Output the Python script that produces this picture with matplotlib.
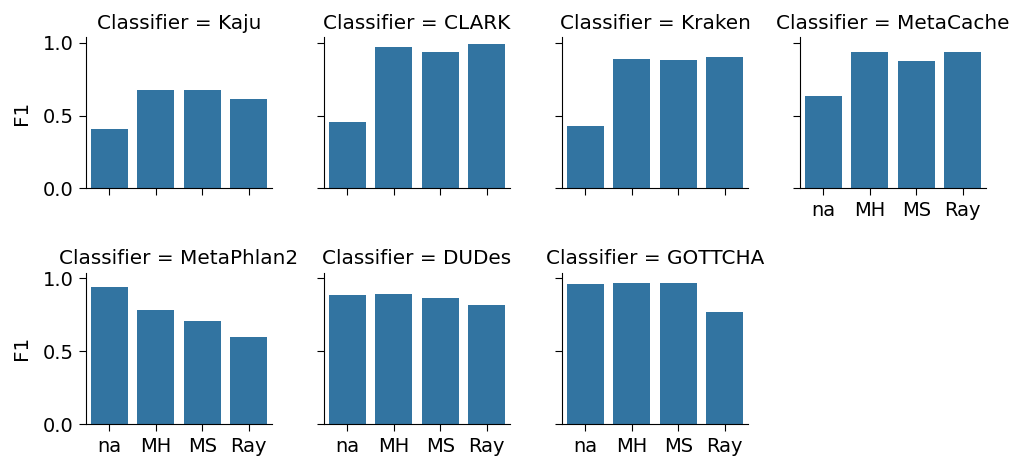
import pandas as pd
import matplotlib
matplotlib.use('Agg')
import matplotlib.pyplot as plt
import seaborn as sns

classifiers = ['Kaju', 'CLARK', 'Kraken', 'MetaCache', 'MetaPhlan2', 'DUDes', 'GOTTCHA']
methods = ['na', 'MH', 'MS', 'Ray']

# F1 per classifier, in the order of methods
f1_kaju = [0.405, 0.674, 0.674, 0.611]
f1_clark = [0.458, 0.974, 0.937, 0.990]
f1_kraken = [0.426, 0.889, 0.882, 0.903]
f1_metacache = [0.634, 0.935, 0.875, 0.935]
f1_metaphlan2 = [0.940, 0.781, 0.705, 0.596]
f1_dudes = [0.889, 0.896, 0.866, 0.820]
f1_gottcha = [0.958, 0.965, 0.965, 0.767]

tick_fs = 14
title_fs = 14.4
plt.rcParams['font.size'] = tick_fs

rows = []
for name, vals in zip(classifiers, [f1_kaju, f1_clark, f1_kraken, f1_metacache,
                                    f1_metaphlan2, f1_dudes, f1_gottcha]):
    for m, v in zip(methods, vals):
        rows.append({'Classifier': name, 'Method': m, 'F1': v})
df = pd.DataFrame(rows)

g = sns.catplot(data=df, x='Method', y='F1', col='Classifier', col_wrap=4,
                kind='bar', order=methods, col_order=classifiers,
                height=2, aspect=1)
g.set_axis_labels('', 'F1')
g.set_titles('Classifier = {col_name}', size=title_fs)
for ax in g.axes.flat:
    ax.tick_params(labelsize=tick_fs, length=5, pad=4)
    ax.yaxis.label.set_size(title_fs)
    ax.yaxis.labelpad = 8

fig = g.figure
fig.set_size_inches(10.14, 4.57)
fig.subplots_adjust(left=0.0848, right=0.9724, top=0.919, bottom=0.0722,
                    wspace=0.28, hspace=0.556)
fig.savefig('out.png', dpi=100)
